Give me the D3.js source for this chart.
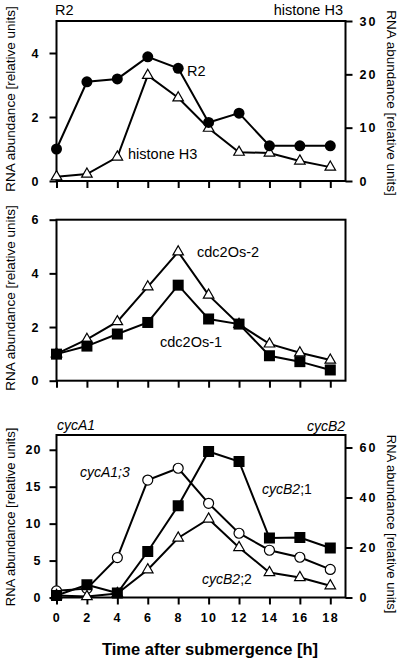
<!DOCTYPE html>
<html><head><meta charset="utf-8">
<script src="https://cdn.jsdelivr.net/npm/d3@7"></script>
<style>
body{margin:0;background:#fff;}
svg{display:block;font-family:"Liberation Sans",Arial,sans-serif;}
</style></head>
<body><svg id="c" width="400" height="661"></svg>
<script>
// ---- data ----
const hours = [0,2,4,6,8,10,12,14,16,18];
const xTicks = [0,2,4,6,8,10,12,14,16,18];
// panel 1
const r2 = [1.0,3.1,3.19,3.88,3.52,1.83,2.12,1.1,1.1,1.1];
const histoneH3 = [0.8,1.3,4.5,19.8,15.6,9.9,5.4,5.25,3.75,2.6];
const p1LeftTicks = [0,2,4];
const p1RightTicks = [0,10,20,30];
// panel 2
const cdc2Os1 = [0.99,1.29,1.74,2.17,3.56,2.30,2.11,0.93,0.71,0.40];
const cdc2Os2 = [1.0,1.54,2.2,3.5,4.8,3.19,2.1,1.37,1.04,0.77];
const p2LeftTicks = [0,2,4,6];
// panel 3
const cycA13 = [0.9,1.2,5.4,15.9,17.5,12.75,8.7,6.4,5.45,3.8];
const cycB21 = [0.8,5.1,1.8,18.4,36.7,58.4,54.4,23.8,24.0,19.8];
const cycB22 = [0.8,0.4,1.6,11.1,23.8,31.4,20.0,10.0,8.0,4.7];
const p3LeftTicks = [0,5,10,15,20];
const p3RightTicks = [0,20,40,60];

const svg = d3.select("#c");
const x = d3.scaleLinear().domain([0,19]).range([56.5,345.5]);
const yTitle = "RNA abundance [relative units]";
const fmt = d3.format("d");

function frame(top,bottom){
  svg.append("rect").attr("x",x(0)).attr("y",top).attr("width",x(19)-x(0)).attr("height",bottom-top)
    .attr("fill","none").attr("stroke","#000").attr("stroke-width",2);
}
function styleAxis(g){
  g.selectAll("path").remove();
  g.selectAll("line").attr("stroke","#000").attr("stroke-width",2);
  g.selectAll("text").attr("font-size",12.5).attr("font-weight","bold")
    .attr("font-family","'Liberation Sans',Arial,sans-serif").attr("fill","#000");
}
function xAxis(bottom,labels){
  const a = d3.axisBottom(x).tickValues(xTicks).tickSize(7).tickPadding(9)
    .tickFormat(labels? fmt : "");
  const g = svg.append("g").attr("transform",`translate(0,${bottom})`).call(a);
  styleAxis(g);
  g.selectAll("text").attr("letter-spacing",1.5);
}
function leftAxis(y,ticks,pad){
  const g = svg.append("g").attr("transform",`translate(${x(0)},0)`)
    .call(d3.axisLeft(y).tickValues(ticks).tickFormat(fmt).tickSize(7).tickPadding(pad||10));
  styleAxis(g);
  g.selectAll("text").attr("letter-spacing",1);
}
function rightAxis(y,ticks){
  const g = svg.append("g").attr("transform",`translate(${x(19)},0)`)
    .call(d3.axisRight(y).tickValues(ticks).tickFormat(fmt).tickSize(7).tickPadding(7));
  styleAxis(g);
  g.selectAll("text").attr("letter-spacing",2);
}
function leftTitle(cy,size){
  svg.append("text").attr("transform",`translate(15,${cy}) rotate(-90)`)
    .attr("text-anchor","middle").attr("font-size",size).text(yTitle);
}
function rightTitle(cy,size){
  svg.append("text").attr("transform",`translate(386.5,${cy}) rotate(90)`)
    .attr("text-anchor","middle").attr("font-size",size).text(yTitle);
}
function line(y,vals){
  svg.append("path").datum(vals)
    .attr("d",d3.line().x((d,i)=>x(hours[i])).y(d=>y(d)))
    .attr("fill","none").attr("stroke","#000").attr("stroke-width",2);
}
function markers(y,vals,type){
  const g = svg.append("g");
  vals.forEach((v,i)=>{
    const cx = x(hours[i]), cy = y(v);
    if(type==="fcircle") g.append("circle").attr("cx",cx).attr("cy",cy).attr("r",5.5).attr("fill","#000");
    else if(type==="ocircle") g.append("circle").attr("cx",cx).attr("cy",cy).attr("r",5).attr("fill","#fff").attr("stroke","#000").attr("stroke-width",1.2);
    else if(type==="square") g.append("rect").attr("x",cx-5.5).attr("y",cy-5.5).attr("width",11).attr("height",11).attr("fill","#000");
    else if(type==="triangle") g.append("path").attr("transform",`translate(${cx},${cy})`)
      .attr("d",d3.symbol().type(d3.symbolTriangle).size(48)()).attr("fill","#fff").attr("stroke","#000").attr("stroke-width",1.2);
  });
}
function label(tx,ty,txt,opts){
  opts = opts||{};
  const t = svg.append("text").attr("x",tx).attr("y",ty).attr("font-size",opts.size||14)
    .attr("text-anchor",opts.anchor||"start");
  if(opts.italic) t.attr("font-style","italic");
  if(opts.parts){
    opts.parts.forEach(p=>{ const s=t.append("tspan").text(p[0]); if(p[1]) s.attr("font-style",p[1]); });
  } else t.text(txt);
  return t;
}

// ---- Panel 1 ----
{
  const top=21, bottom=181;
  const yL = d3.scaleLinear().domain([0,5]).range([bottom,top]);
  const yR = d3.scaleLinear().domain([0,30]).range([bottom,top]);
  frame(top,bottom);
  xAxis(bottom,false);
  leftAxis(yL,p1LeftTicks);
  rightAxis(yR,p1RightTicks);
  line(yR,histoneH3); markers(yR,histoneH3,"triangle");
  line(yL,r2); markers(yL,r2,"fcircle");
  leftTitle(99,13.5); rightTitle(103,13.5);
  label(55,15,"R2",{size:14.5});
  label(343,15,"histone H3",{size:14.5,anchor:"end"});
  label(187,76,"R2",{size:14.5});
  label(128,159,"histone H3",{size:14.5});
}
// ---- Panel 2 ----
{
  const top=219.7, bottom=380.7;
  const yL = d3.scaleLinear().domain([0,6]).range([bottom,top]);
  frame(top,bottom);
  xAxis(bottom,false);
  leftAxis(yL,p2LeftTicks);
  line(yL,cdc2Os2); markers(yL,cdc2Os2,"triangle");
  line(yL,cdc2Os1); markers(yL,cdc2Os1,"square");
  leftTitle(298,13.5);
  label(197,257,"cdc2Os-2",{size:14.5});
  label(160,347,"cdc2Os-1",{size:14.5});
}
// ---- Panel 3 ----
{
  const top=435, bottom=597.5;
  const yL = d3.scaleLinear().domain([0,22]).range([bottom,top]);
  const yR = d3.scaleLinear().domain([0,65]).range([bottom,top]);
  frame(top,bottom);
  xAxis(bottom,true);
  leftAxis(yL,p3LeftTicks,8);
  rightAxis(yR,p3RightTicks);
  line(yL,cycA13); markers(yL,cycA13,"ocircle");
  line(yR,cycB22); markers(yR,cycB22,"triangle");
  line(yR,cycB21); markers(yR,cycB21,"square");
  leftTitle(517,13); rightTitle(524,13);
  label(57,430,"cycA1",{size:14,italic:true});
  label(345,431,"cycB2",{size:14,italic:true,anchor:"end"});
  label(80,477,"cycA1;3",{size:14,italic:true});
  label(262,494,null,{size:14,parts:[["cycB2","italic"],[";1",null]]});
  label(202,584,null,{size:14,parts:[["cycB2","italic"],[";2",null]]});
  svg.append("text").attr("x",210).attr("y",655).attr("text-anchor","middle")
    .attr("font-size",16.5).attr("font-weight","bold").text("Time after submergence [h]");
}
</script></body></html>
